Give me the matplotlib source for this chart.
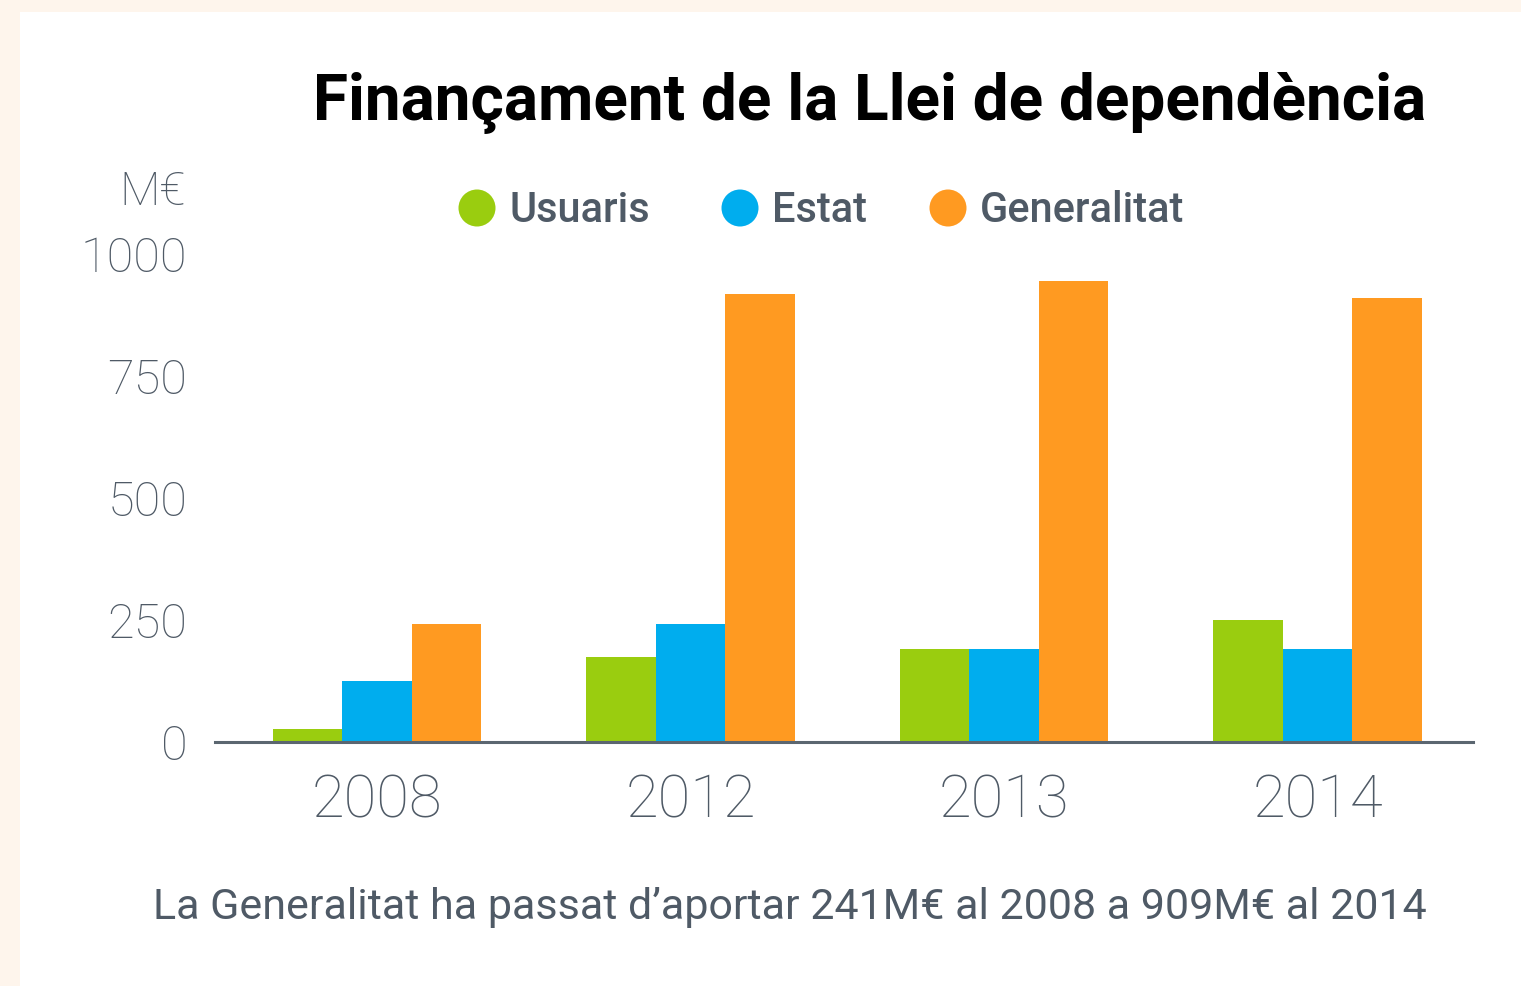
import numpy as np
import matplotlib.pyplot as plt
from matplotlib.patches import Rectangle, Ellipse

# Data
years = ['2008', '2012', '2013', '2014']
usuaris = [27, 174, 190, 250]
estat = [125, 241, 190, 190]
generalitat = [241, 918, 945, 909]
series_names = ['Usuaris', 'Estat', 'Generalitat']
colors = ['#9acd0f', '#00adee', '#ff9a21']
yticks = [0, 250, 500, 750, 1000]

text_col = '#4f5a66'
plt.rcParams['font.family'] = ['Roboto', 'DejaVu Sans']

W, H = 1521, 986
fig = plt.figure(figsize=(W / 100, H / 100), dpi=100)
fig.patch.set_facecolor('#fef5ec')
# white panel
fig.add_artist(Rectangle((20 / W, 0), 1 - 20 / W, 1 - 12 / H, transform=fig.transFigure,
                         facecolor='white', edgecolor='none', zorder=0))

def fx(px):
    return px / W

def fy(py):
    return 1 - py / H

ax = fig.add_axes([fx(215), fy(742), fx(1473) - fx(215), fy(254) - fy(742)])
ax.set_facecolor('none')

x = np.arange(len(years))
w = 0.222
for i, (vals, c) in enumerate(zip([usuaris, estat, generalitat], colors)):
    ax.bar(x + (i - 1) * w, vals, width=w, color=c, zorder=2)

ax.set_xlim(-0.517, 3.496)
ax.set_ylim(0, 1000)
for s in ['top', 'right', 'left']:
    ax.spines[s].set_visible(False)
ax.spines['bottom'].set_color('#5b6670')
ax.spines['bottom'].set_linewidth(2.2)
ax.spines['bottom'].set_zorder(3)

ax.set_yticks(yticks)
ax.set_yticklabels([str(t) for t in yticks], fontsize=35, fontweight='light', color=text_col)
ax.tick_params(axis='y', length=0, pad=20)
ax.set_xticks(x)
ax.set_xticklabels(years, fontsize=43, fontweight='light', color=text_col)
ax.tick_params(axis='x', length=0, pad=22)

# unit label
fig.text(fx(186), fy(192), 'M€', ha='right', va='center', fontsize=34, fontweight='light',
         color=text_col)

# title
fig.text(fx(1426), fy(103), 'Finançament de la Llei de dependència', ha='right', va='center',
         fontsize=46, fontweight='bold', color='black')

# legend
leg_cx = [477, 740, 948]
for cx, name, c in zip(leg_cx, series_names, colors):
    fig.add_artist(Ellipse((fx(cx), fy(208)), 37 / W, 37 / H, transform=fig.transFigure,
                           facecolor=c, edgecolor='none'))
    fig.text(fx(cx + 32), fy(210), name, ha='left', va='center', fontsize=30,
             fontweight='medium', color=text_col)

# footnote
fig.text(fx(790), fy(908), 'La Generalitat ha passat d\u2019aportar 241M€ al 2008 a 909M€ al 2014',
         ha='center', va='center', fontsize=31, color=text_col)

fig.savefig('out.png', dpi=100, facecolor=fig.get_facecolor())
